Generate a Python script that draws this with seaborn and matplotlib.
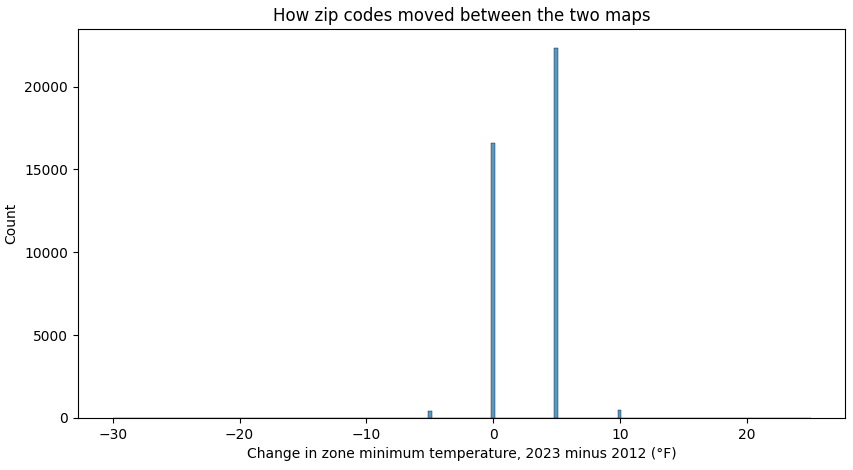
import numpy as np
import pandas as pd
import matplotlib
matplotlib.use("Agg")
import matplotlib.pyplot as plt
import seaborn as sns

# Zone change (2023 minus 2012, deg F) and how many zip codes had it
change_values = [-30, -5, 0, 5, 10, 25]
zip_counts = [2, 400, 16580, 22350, 490, 2]

# expand to one row per zip code so the histogram bins like the original
df = pd.DataFrame({"change": np.repeat(change_values, zip_counts)})

fig, ax = plt.subplots(figsize=(8.54, 4.7), dpi=100)
fig.subplots_adjust(left=0.091, right=0.99, top=0.938, bottom=0.111)
sns.histplot(data=df, x="change", ax=ax)
ax.set_title("How zip codes moved between the two maps")
ax.set_xlabel("Change in zone minimum temperature, 2023 minus 2012 (°F)")
ax.set_ylabel("Count")

fig.savefig("out.png", dpi=100)
